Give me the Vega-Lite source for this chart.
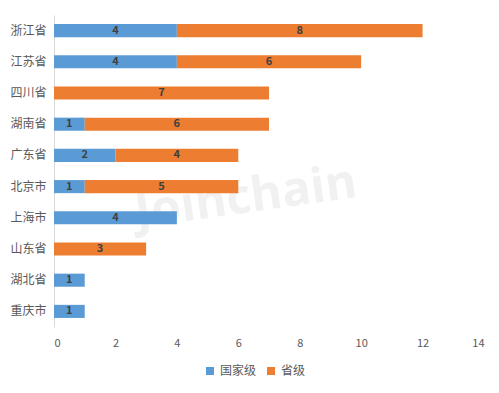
{
  "$schema": "https://vega.github.io/schema/vega-lite/v6.json",
  "width": 430,
  "height": 312,
  "autosize": "none",
  "padding": {"left": 54, "top": 15, "right": 15, "bottom": 66},
  "background": "white",
  "config": {
    "view": {"stroke": null},
    "font": "Noto Sans CJK SC",
    "axis": {"labelFont": "Noto Sans CJK SC", "labelColor": "#595959", "domainColor": "#d9d9d9", "ticks": false, "grid": false}
  },
  "datasets": {
    "main": [
      {"province": "浙江省", "level": "国家级", "ord": 1, "value": 4},
      {"province": "浙江省", "level": "省级", "ord": 2, "value": 8},
      {"province": "江苏省", "level": "国家级", "ord": 1, "value": 4},
      {"province": "江苏省", "level": "省级", "ord": 2, "value": 6},
      {"province": "四川省", "level": "国家级", "ord": 1, "value": 0},
      {"province": "四川省", "level": "省级", "ord": 2, "value": 7},
      {"province": "湖南省", "level": "国家级", "ord": 1, "value": 1},
      {"province": "湖南省", "level": "省级", "ord": 2, "value": 6},
      {"province": "广东省", "level": "国家级", "ord": 1, "value": 2},
      {"province": "广东省", "level": "省级", "ord": 2, "value": 4},
      {"province": "北京市", "level": "国家级", "ord": 1, "value": 1},
      {"province": "北京市", "level": "省级", "ord": 2, "value": 5},
      {"province": "上海市", "level": "国家级", "ord": 1, "value": 4},
      {"province": "上海市", "level": "省级", "ord": 2, "value": 0},
      {"province": "山东省", "level": "国家级", "ord": 1, "value": 0},
      {"province": "山东省", "level": "省级", "ord": 2, "value": 3},
      {"province": "湖北省", "level": "国家级", "ord": 1, "value": 1},
      {"province": "湖北省", "level": "省级", "ord": 2, "value": 0},
      {"province": "重庆市", "level": "国家级", "ord": 1, "value": 1},
      {"province": "重庆市", "level": "省级", "ord": 2, "value": 0}
    ],
    "wm": [{"label": "Joinchain", "x": 6.2, "province": "北京市"}]
  },
  "layer": [
    {
      "data": {"name": "wm"},
      "mark": {"type": "text", "font": "Open Sans", "fontWeight": "bold", "fontSize": 48, "color": "#d8d8d8", "opacity": 0.35, "angle": -8, "dy": 12, "align": "center", "baseline": "middle"},
      "encoding": {
        "x": {"field": "x", "type": "quantitative", "scale": {"domain": [0, 14]}},
        "y": {"field": "province", "type": "nominal",
          "sort": ["浙江省", "江苏省", "四川省", "湖南省", "广东省", "北京市", "上海市", "山东省", "湖北省", "重庆市"]},
        "text": {"field": "label"}
      }
    },
    {
      "data": {"name": "main"},
      "transform": [
        {"filter": "datum.value > 0"},
        {"stack": "value", "groupby": ["province"], "sort": [{"field": "ord", "order": "ascending"}], "as": ["v0", "v1"]},
        {"calculate": "(datum.v0 + datum.v1) / 2", "as": "mid"}
      ],
      "encoding": {
        "y": {
          "field": "province", "type": "nominal",
          "sort": ["浙江省", "江苏省", "四川省", "湖南省", "广东省", "北京市", "上海市", "山东省", "湖北省", "重庆市"],
          "scale": {"paddingInner": 0.58, "paddingOuter": 0.29},
          "axis": {"title": null, "labelFontSize": 12, "labelPadding": 8, "domainWidth": 1}
        }
      },
      "layer": [
        {
          "mark": {"type": "bar"},
          "encoding": {
            "x": {
              "field": "v0", "type": "quantitative",
              "scale": {"domain": [0, 14]},
              "axis": {"title": null, "values": [0, 2, 4, 6, 8, 10, 12, 14], "domain": false, "labelFontSize": 11, "labelPadding": 10}
            },
            "x2": {"field": "v1"},
            "color": {
              "field": "level", "type": "nominal",
              "scale": {"domain": ["国家级", "省级"], "range": ["#5B9BD5", "#ED7D31"]},
              "legend": {
                "title": null, "orient": "none", "direction": "horizontal",
                "legendX": 150, "legendY": 350,
                "symbolType": "square", "symbolSize": 64, "symbolStrokeWidth": 0,
                "labelFontSize": 12, "labelColor": "#595959", "labelFont": "Noto Sans CJK SC",
                "columnPadding": 8, "labelOffset": 4
              }
            }
          }
        },
        {
          "mark": {"type": "text", "fontWeight": "bold", "fontSize": 11, "color": "#404040", "font": "Noto Sans CJK SC", "baseline": "middle"},
          "encoding": {
            "x": {"field": "mid", "type": "quantitative"},
            "text": {"field": "value", "type": "quantitative"}
          }
        }
      ]
    }
  ]
}
